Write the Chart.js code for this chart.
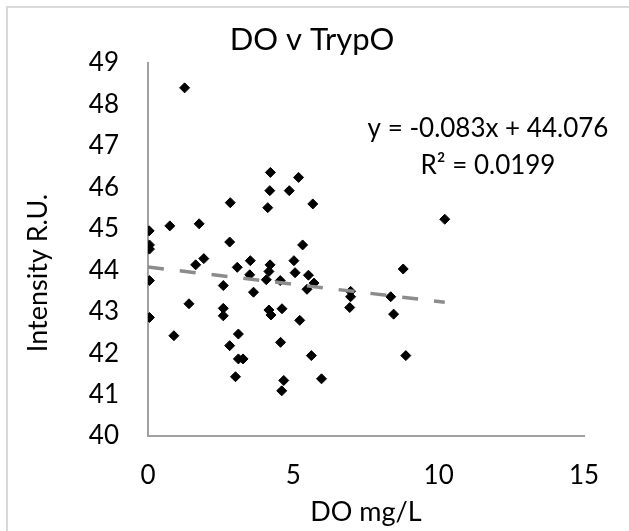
<!DOCTYPE html>
<html lang="en">

<head>
    <meta charset="UTF-8">
    <title>DO v TrypO</title>
    <script src="https://cdn.jsdelivr.net/npm/chart.js"></script>
    <style>
        body {
            margin: 0;
            padding: 0;
            background-color: #fff;
        }

        .chart-frame {
            position: relative;
            width: 629px;
            height: 531px;
            overflow: hidden;
        }

        .frame-border {
            position: absolute;
            left: 6px;
            top: 6px;
            width: 700px;
            height: 600px;
            border-left: 2px solid #d9d9d9;
            border-top: 2px solid #d9d9d9;
        }

        canvas {
            position: absolute;
            left: 0;
            top: 0;
        }
    </style>
</head>

<body>
    <div class="chart-frame">
        <div class="frame-border"></div>
        <canvas id="doChart" width="629" height="531"></canvas>
    </div>

    <script>
        // Values
        const doValues = [
            1.26, 4.21, 5.18, 4.19, 4.86, 2.83, 4.12, 5.67, 0.04, 0.75,
            1.76, 0.05, 0.05, 2.81, 5.32, 1.64, 1.92, 0.05, 2.59, 3.07,
            3.52, 3.50, 3.63, 4.20, 4.16, 4.07, 4.55, 5.02, 5.06, 5.52,
            5.47, 5.71, 1.41, 0.05, 2.59, 2.59, 4.16, 4.23, 4.61, 5.22,
            0.89, 3.11, 2.81, 4.56, 3.11, 3.27, 5.62, 3.01, 4.67, 4.60,
            5.97, 8.78, 6.97, 6.97, 6.94, 8.35, 8.45, 8.87, 10.21
        ];
        const trypValues = [
            48.40, 46.36, 46.24, 45.92, 45.92, 45.63, 45.51, 45.60, 44.95, 45.07,
            45.12, 44.61, 44.51, 44.68, 44.61, 44.13, 44.28, 43.75, 43.63, 44.07,
            44.23, 43.89, 43.47, 44.13, 43.97, 43.77, 43.75, 44.23, 43.94, 43.88,
            43.54, 43.69, 43.19, 42.86, 43.08, 42.90, 43.04, 42.92, 43.07, 42.79,
            42.42, 42.46, 42.18, 42.26, 41.86, 41.86, 41.94, 41.43, 41.34, 41.09,
            41.38, 44.03, 43.49, 43.36, 43.10, 43.36, 42.94, 41.94, 45.23
        ];

        // Linear trendline end points (y = -0.083x + 44.076)
        const trendX = [0, 10.21];
        const trendY = [44.076, 43.229];
        const trendLabel = ['y = -0.083x + 44.076', 'R² = 0.0199'];

        const xTicks = [0, 5, 10, 15];
        const yTicks = [40, 41, 42, 43, 44, 45, 46, 47, 48, 49];

        const FONT = 'Lato, "Open Sans", sans-serif';

        // Title, y axis title and trendline equation drawn as canvas text
        const textPlugin = {
            id: 'chartText',
            afterDraw(chart) {
                const ctx = chart.ctx;
                ctx.save();
                ctx.fillStyle = '#000';
                ctx.textAlign = 'center';
                ctx.textBaseline = 'alphabetic';
                ctx.font = '31px ' + FONT;
                ctx.fillText('DO v TrypO', 312, 50);
                ctx.font = '26px ' + FONT;
                ctx.fillText(trendLabel[0], 488, 137);
                ctx.fillText(trendLabel[1], 488, 174);

                ctx.translate(47, 273);
                ctx.rotate(-Math.PI / 2);
                ctx.font = '27px ' + FONT;
                ctx.fillText('Intensity R.U.', 0, 0);
                ctx.restore();
            }
        };

        const ctx = document.getElementById('doChart').getContext('2d');
        new Chart(ctx, {
            data: {
                datasets: [{
                    type: 'line',
                    label: 'Linear (TrypO)',
                    data: trendX.map((x, i) => ({ x: x, y: trendY[i] })),
                    borderColor: '#8c8c8c',
                    borderWidth: 3.5,
                    borderDash: [16, 16],
                    pointRadius: 0,
                    fill: false,
                    order: 0
                }, {
                    type: 'scatter',
                    label: 'TrypO',
                    data: doValues.map((x, i) => ({ x: x, y: trypValues[i] })),
                    pointStyle: 'rectRot',
                    pointRadius: 5,
                    backgroundColor: '#000',
                    borderColor: '#000',
                    borderWidth: 1,
                    order: 1
                }]
            },
            options: {
                responsive: false,
                animation: false,
                layout: {
                    padding: { top: 63, right: 45, bottom: 0, left: 0 }
                },
                plugins: {
                    legend: { display: false },
                    tooltip: { enabled: false }
                },
                scales: {
                    x: {
                        type: 'linear',
                        min: 0,
                        max: 15,
                        afterFit(scale) { scale.height = 95; },
                        afterBuildTicks(scale) { scale.ticks = xTicks.map(v => ({ value: v })); },
                        grid: { display: false, drawTicks: false },
                        border: { color: '#a0a0a0', width: 2 },
                        ticks: {
                            color: '#000',
                            padding: 24,
                            font: { family: FONT, size: 26 }
                        },
                        title: {
                            display: true,
                            text: 'DO mg/L',
                            color: '#000',
                            padding: { top: 0, bottom: 3 },
                            font: { family: FONT, size: 27 }
                        }
                    },
                    y: {
                        type: 'linear',
                        min: 40,
                        max: 49,
                        afterFit(scale) { scale.width = 148; },
                        afterBuildTicks(scale) { scale.ticks = yTicks.map(v => ({ value: v })); },
                        grid: { display: false, drawTicks: false },
                        border: { color: '#a0a0a0', width: 2 },
                        ticks: {
                            color: '#000',
                            padding: 29,
                            font: { family: FONT, size: 26 }
                        },
                        title: { display: false }
                    }
                }
            },
            plugins: [textPlugin]
        });
    </script>
</body>

</html>
